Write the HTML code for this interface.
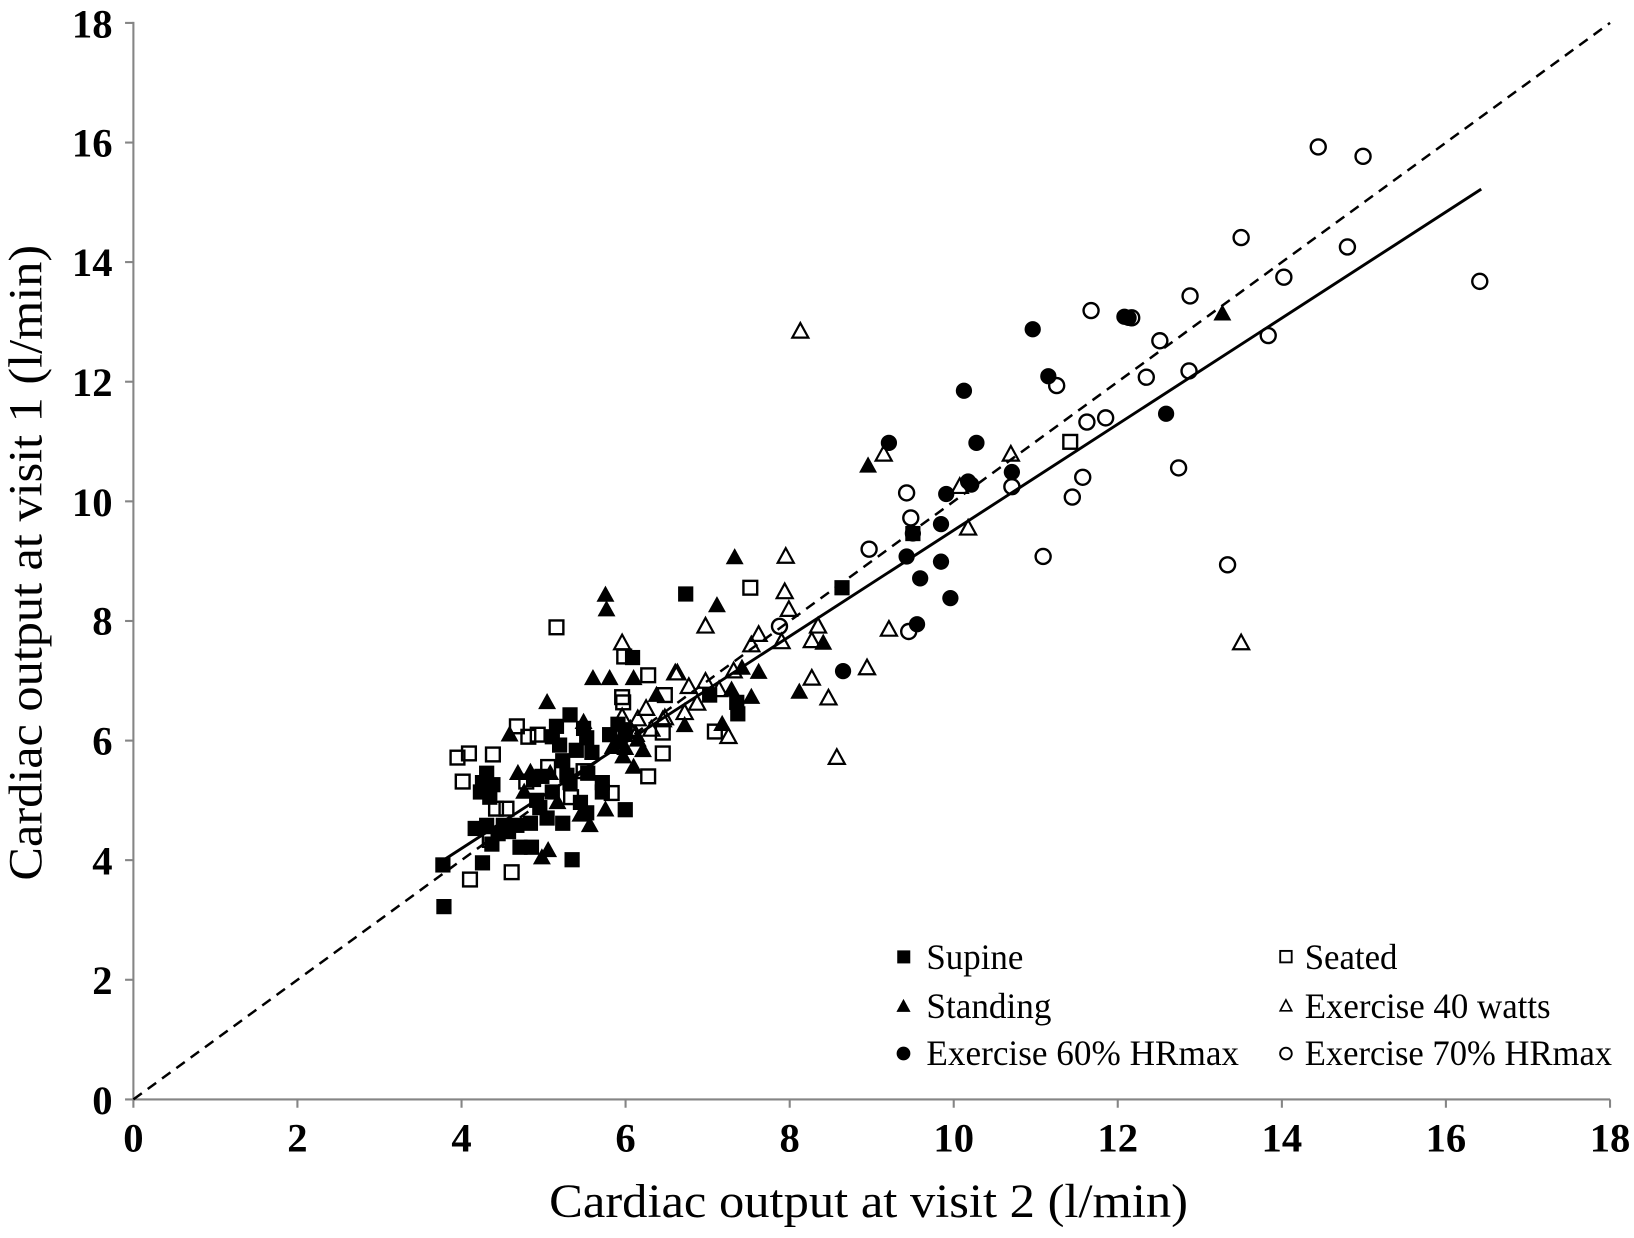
<!DOCTYPE html>
<html><head><meta charset="utf-8">
<style>
html,body{margin:0;padding:0;background:#fff;}
svg{display:block;}
text{font-family:"Liberation Serif","Times New Roman",serif;fill:#000;}
</style></head>
<body>
<svg width="1634" height="1238" viewBox="0 0 1568 1188" xmlns="http://www.w3.org/2000/svg">
<defs>
<rect id="fs" x="-7.3" y="-7.3" width="14.6" height="14.6" fill="#000"/>
<rect id="os" x="-6.6" y="-6.6" width="13.2" height="13.2" fill="none" stroke="#000" stroke-width="2.3"/>
<polygon id="ft" points="0,-9 8.6,6.5 -8.6,6.5" fill="#000"/>
<polygon id="ot" points="0,-8 7.7,6 -7.7,6" fill="none" stroke="#000" stroke-width="2.1" stroke-linejoin="miter"/>
<circle id="fc" r="7.8" fill="#000"/>
<circle id="oc" r="7.2" fill="none" stroke="#000" stroke-width="2.3"/>
</defs>
<rect width="1568" height="1188" fill="#fff"/>

<!-- axes -->
<g stroke="#858585" stroke-width="2" fill="none">
<line x1="128" y1="21" x2="128" y2="1063"/>
<line x1="120" y1="1055" x2="1545" y2="1055"/>
<line x1="120" y1="22" x2="128" y2="22"/>
<line x1="120" y1="136.8" x2="128" y2="136.8"/>
<line x1="120" y1="251.5" x2="128" y2="251.5"/>
<line x1="120" y1="366.3" x2="128" y2="366.3"/>
<line x1="120" y1="481.1" x2="128" y2="481.1"/>
<line x1="120" y1="595.9" x2="128" y2="595.9"/>
<line x1="120" y1="710.7" x2="128" y2="710.7"/>
<line x1="120" y1="825.4" x2="128" y2="825.4"/>
<line x1="120" y1="940.2" x2="128" y2="940.2"/>
<line x1="285.4" y1="1055" x2="285.4" y2="1063"/>
<line x1="442.9" y1="1055" x2="442.9" y2="1063"/>
<line x1="600.3" y1="1055" x2="600.3" y2="1063"/>
<line x1="757.8" y1="1055" x2="757.8" y2="1063"/>
<line x1="915.2" y1="1055" x2="915.2" y2="1063"/>
<line x1="1072.6" y1="1055" x2="1072.6" y2="1063"/>
<line x1="1230.1" y1="1055" x2="1230.1" y2="1063"/>
<line x1="1387.5" y1="1055" x2="1387.5" y2="1063"/>
<line x1="1545" y1="1055" x2="1545" y2="1063"/>
</g>

<!-- tick labels -->
<g font-size="39" font-weight="bold" text-anchor="end">
<text x="108" y="36">18</text>
<text x="108" y="150">16</text>
<text x="108" y="265">14</text>
<text x="108" y="380">12</text>
<text x="108" y="495">10</text>
<text x="108" y="609">8</text>
<text x="108" y="724">6</text>
<text x="108" y="839">4</text>
<text x="108" y="954">2</text>
<text x="108" y="1069">0</text>
</g>
<g font-size="39" font-weight="bold" text-anchor="middle">
<text x="128" y="1105">0</text>
<text x="285.4" y="1105">2</text>
<text x="442.9" y="1105">4</text>
<text x="600.3" y="1105">6</text>
<text x="757.8" y="1105">8</text>
<text x="915.2" y="1105">10</text>
<text x="1072.6" y="1105">12</text>
<text x="1230.1" y="1105">14</text>
<text x="1387.5" y="1105">16</text>
<text x="1545" y="1105">18</text>
</g>

<!-- axis titles -->
<text x="527" y="1168" font-size="46" textLength="613" lengthAdjust="spacingAndGlyphs">Cardiac output at visit 2 (l/min)</text>
<text transform="translate(40,845) rotate(-90)" font-size="46" textLength="610" lengthAdjust="spacingAndGlyphs">Cardiac output at visit 1 (l/min)</text>

<!-- lines -->
<line x1="128" y1="1055" x2="1545" y2="22" stroke="#000" stroke-width="2.4" stroke-dasharray="10,7"/>
<line x1="425.6" y1="825.4" x2="1421.4" y2="181.5" stroke="#000" stroke-width="2.8"/>

<!-- Exercise 40 watts (open triangles) -->
<g>
<use href="#ot" x="597" y="617"/><use href="#ot" x="648" y="646"/><use href="#ot" x="638" y="689"/><use href="#ot" x="597" y="688"/>
<use href="#ot" x="754" y="534"/><use href="#ot" x="753" y="568"/><use href="#ot" x="757" y="585"/><use href="#ot" x="677" y="601"/>
<use href="#ot" x="728" y="609"/><use href="#ot" x="721" y="619"/><use href="#ot" x="750" y="616"/><use href="#ot" x="785" y="601"/>
<use href="#ot" x="779" y="615"/><use href="#ot" x="853" y="604"/><use href="#ot" x="832" y="641"/><use href="#ot" x="779" y="651"/>
<use href="#ot" x="795" y="670"/><use href="#ot" x="803" y="727"/><use href="#ot" x="650" y="646"/><use href="#ot" x="661" y="659"/>
<use href="#ot" x="677" y="654"/><use href="#ot" x="704" y="644"/><use href="#ot" x="669" y="675"/><use href="#ot" x="657" y="684"/>
<use href="#ot" x="699" y="707"/><use href="#ot" x="636" y="691"/><use href="#ot" x="768" y="318"/><use href="#ot" x="848" y="436"/>
<use href="#ot" x="970" y="436"/><use href="#ot" x="921" y="467"/><use href="#ot" x="929" y="507"/><use href="#ot" x="1191" y="617"/>
<use href="#ot" x="620" y="680"/><use href="#ot" x="612" y="690"/><use href="#ot" x="625" y="700"/><use href="#ot" x="605" y="700"/>
<use href="#ot" x="610" y="705"/><use href="#ot" x="690" y="662"/>
</g>

<!-- Seated (open squares) -->
<g>
<use href="#os" x="534" y="602"/><use href="#os" x="599" y="630"/><use href="#os" x="622" y="648"/><use href="#os" x="597" y="669"/>
<use href="#os" x="598" y="674"/><use href="#os" x="638" y="667"/><use href="#os" x="496" y="697"/><use href="#os" x="507" y="707"/>
<use href="#os" x="516" y="705"/><use href="#os" x="450" y="723"/><use href="#os" x="439" y="727"/><use href="#os" x="473" y="724"/>
<use href="#os" x="444" y="750"/><use href="#os" x="526" y="736"/><use href="#os" x="636" y="723"/><use href="#os" x="622" y="745"/>
<use href="#os" x="476" y="776"/><use href="#os" x="486" y="776"/><use href="#os" x="587" y="761"/><use href="#os" x="470" y="806"/>
<use href="#os" x="451" y="844"/><use href="#os" x="491" y="837"/><use href="#os" x="636" y="703"/><use href="#os" x="720" y="564"/>
<use href="#os" x="1027" y="424"/><use href="#os" x="686" y="702"/><use href="#os" x="560" y="740"/><use href="#os" x="505" y="750"/>
<use href="#os" x="548" y="765"/>
</g>

<!-- Supine (filled squares) -->
<g>
<use href="#fs" x="607" y="631"/><use href="#fs" x="547" y="686"/><use href="#fs" x="534" y="697"/><use href="#fs" x="530" y="707"/>
<use href="#fs" x="537" y="715"/><use href="#fs" x="560" y="699"/><use href="#fs" x="563" y="708"/><use href="#fs" x="568" y="722"/>
<use href="#fs" x="467" y="742"/><use href="#fs" x="463" y="751"/><use href="#fs" x="473" y="753"/><use href="#fs" x="461" y="760"/>
<use href="#fs" x="512" y="748"/><use href="#fs" x="544" y="744"/><use href="#fs" x="547" y="751"/><use href="#fs" x="564" y="742"/>
<use href="#fs" x="578" y="751"/><use href="#fs" x="578" y="760"/><use href="#fs" x="515" y="768"/><use href="#fs" x="518" y="775"/>
<use href="#fs" x="557" y="770"/><use href="#fs" x="563" y="780"/><use href="#fs" x="600" y="777"/><use href="#fs" x="456" y="795"/>
<use href="#fs" x="467" y="792"/><use href="#fs" x="483" y="792"/><use href="#fs" x="496" y="792"/><use href="#fs" x="509" y="790"/>
<use href="#fs" x="478" y="800"/><use href="#fs" x="499" y="813"/><use href="#fs" x="510" y="813"/><use href="#fs" x="549" y="825"/>
<use href="#fs" x="463" y="828"/><use href="#fs" x="425" y="830"/><use href="#fs" x="426" y="870"/><use href="#fs" x="658" y="570"/>
<use href="#fs" x="808" y="564"/><use href="#fs" x="876" y="512"/><use href="#fs" x="681" y="667"/><use href="#fs" x="707" y="674"/>
<use href="#fs" x="708" y="685"/><use href="#fs" x="600" y="701"/><use href="#fs" x="520" y="745"/><use href="#fs" x="530" y="760"/>
<use href="#fs" x="540" y="730"/><use href="#fs" x="595" y="712"/><use href="#fs" x="488" y="798"/><use href="#fs" x="472" y="810"/>
<use href="#fs" x="525" y="785"/><use href="#fs" x="540" y="790"/><use href="#fs" x="553" y="720"/><use href="#fs" x="470" y="765"/>
<use href="#fs" x="593" y="695"/><use href="#fs" x="585" y="705"/>
</g>

<!-- Standing (filled triangles) -->
<g>
<use href="#ft" x="525" y="674"/><use href="#ft" x="489" y="705"/><use href="#ft" x="569" y="651"/><use href="#ft" x="585" y="651"/>
<use href="#ft" x="608" y="651"/><use href="#ft" x="630" y="667"/><use href="#ft" x="560" y="693"/><use href="#ft" x="497" y="742"/>
<use href="#ft" x="509" y="741"/><use href="#ft" x="528" y="742"/><use href="#ft" x="581" y="777"/><use href="#ft" x="557" y="782"/>
<use href="#ft" x="566" y="792"/><use href="#ft" x="526" y="816"/><use href="#ft" x="520" y="823"/><use href="#ft" x="588" y="717"/>
<use href="#ft" x="598" y="726"/><use href="#ft" x="617" y="720"/><use href="#ft" x="608" y="736"/><use href="#ft" x="705" y="535"/>
<use href="#ft" x="688" y="581"/><use href="#ft" x="581" y="571"/><use href="#ft" x="582" y="585"/><use href="#ft" x="712" y="641"/>
<use href="#ft" x="728" y="645"/><use href="#ft" x="702" y="662"/><use href="#ft" x="721" y="669"/><use href="#ft" x="767" y="664"/>
<use href="#ft" x="790" y="617"/><use href="#ft" x="657" y="696"/><use href="#ft" x="693" y="695"/><use href="#ft" x="833" y="447"/>
<use href="#ft" x="1173" y="301"/><use href="#ft" x="600" y="718"/><use href="#ft" x="612" y="710"/><use href="#ft" x="503" y="760"/>
<use href="#ft" x="535" y="770"/>
</g>

<!-- Exercise 60% (filled circles) -->
<g>
<use href="#fc" x="991" y="316"/><use href="#fc" x="1079" y="304"/><use href="#fc" x="1083" y="305"/><use href="#fc" x="1006" y="361"/>
<use href="#fc" x="925" y="375"/><use href="#fc" x="853" y="425"/><use href="#fc" x="937" y="425"/><use href="#fc" x="1119" y="397"/>
<use href="#fc" x="971" y="453"/><use href="#fc" x="929" y="462"/><use href="#fc" x="932" y="465"/><use href="#fc" x="908" y="474"/>
<use href="#fc" x="903" y="503"/><use href="#fc" x="876" y="512"/><use href="#fc" x="870" y="534"/><use href="#fc" x="903" y="539"/>
<use href="#fc" x="883" y="555"/><use href="#fc" x="912" y="574"/><use href="#fc" x="880" y="599"/><use href="#fc" x="809" y="644"/>
</g>

<!-- Exercise 70% (open circles) -->
<g>
<use href="#oc" x="1265" y="141"/><use href="#oc" x="1308" y="150"/><use href="#oc" x="1191" y="228"/><use href="#oc" x="1293" y="237"/>
<use href="#oc" x="1047" y="298"/><use href="#oc" x="1142" y="284"/><use href="#oc" x="1232" y="266"/><use href="#oc" x="1420" y="270"/>
<use href="#oc" x="1217" y="322"/><use href="#oc" x="1113" y="327"/><use href="#oc" x="1100" y="362"/><use href="#oc" x="1141" y="356"/>
<use href="#oc" x="1014" y="370"/><use href="#oc" x="1043" y="405"/><use href="#oc" x="1061" y="401"/><use href="#oc" x="1131" y="449"/>
<use href="#oc" x="1039" y="458"/><use href="#oc" x="971" y="467"/><use href="#oc" x="1029" y="477"/><use href="#oc" x="870" y="473"/>
<use href="#oc" x="874" y="497"/><use href="#oc" x="1001" y="534"/><use href="#oc" x="1178" y="542"/><use href="#oc" x="834" y="527"/>
<use href="#oc" x="872" y="606"/><use href="#oc" x="748" y="601"/><use href="#oc" x="1086" y="305"/>
</g>

<!-- legend -->
<g>
<rect x="861" y="912" width="12.5" height="12.5" fill="#000"/>
<polygon points="867,958.5 873.8,971 860.2,971" fill="#000"/>
<circle cx="867" cy="1011" r="6.6" fill="#000"/>
<rect x="1228.5" y="912.5" width="11" height="11" fill="none" stroke="#000" stroke-width="1.8"/>
<polygon points="1234,959.5 1239.5,970 1228.5,970" fill="none" stroke="#000" stroke-width="1.6"/>
<circle cx="1234" cy="1011" r="5.6" fill="none" stroke="#000" stroke-width="1.8"/>
</g>
<g font-size="34">
<text x="889" y="930" textLength="93" lengthAdjust="spacingAndGlyphs">Supine</text>
<text x="889" y="977" textLength="120" lengthAdjust="spacingAndGlyphs">Standing</text>
<text x="889" y="1022" textLength="300" lengthAdjust="spacingAndGlyphs">Exercise 60% HRmax</text>
<text x="1252" y="930" textLength="89" lengthAdjust="spacingAndGlyphs">Seated</text>
<text x="1252" y="977" textLength="236" lengthAdjust="spacingAndGlyphs">Exercise 40 watts</text>
<text x="1252" y="1022" textLength="295" lengthAdjust="spacingAndGlyphs">Exercise 70% HRmax</text>
</g>
</svg>
</body></html>
